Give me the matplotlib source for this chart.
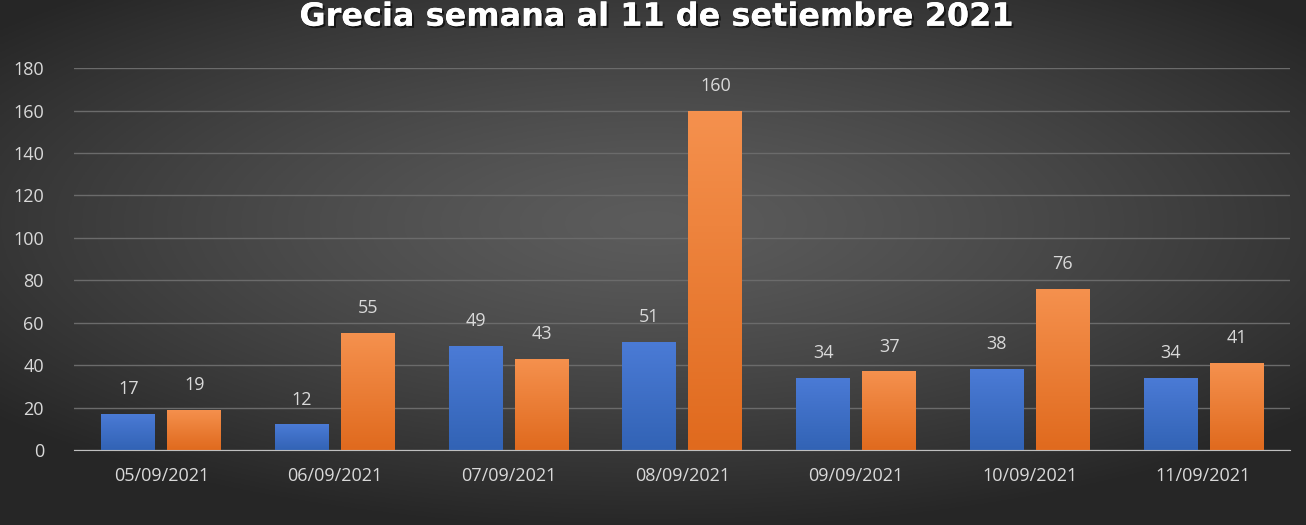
import numpy as np
import matplotlib.pyplot as plt
import matplotlib.patheffects as pe

fechas = ['05/09/2021', '06/09/2021', '07/09/2021', '08/09/2021',
          '09/09/2021', '10/09/2021', '11/09/2021']
serie_azul = [17, 12, 49, 51, 34, 38, 34]
serie_naranja = [19, 55, 43, 160, 37, 76, 41]

plt.rcParams['font.family'] = ['Open Sans', 'DejaVu Sans']

fig = plt.figure(figsize=(13.06, 5.25), dpi=100)

# fondo con degradado radial
bg = fig.add_axes([0, 0, 1, 1])
yy, xx = np.mgrid[-1:1:300j, -1:1:600j]
r = np.sqrt((xx * 0.9) ** 2 + ((yy + 0.15) * 1.0) ** 2)
g = np.clip(0.36 - 0.17 * r ** 1.3, 0.15, 0.4)
bg.imshow(np.dstack([g, g, g]), aspect='auto', extent=[0, 1, 0, 1])
bg.axis('off')

ax = fig.add_axes([0.057, 0.143, 0.931, 0.727])
ax.patch.set_alpha(0)

x = np.arange(len(fechas))
w = 0.31
gap = 0.07
b1 = ax.bar(x - (w + gap) / 2, serie_azul, w, color='#4472C4', zorder=3)
b2 = ax.bar(x + (w + gap) / 2, serie_naranja, w, color='#ED7D31', zorder=3)

# degradado vertical en las barras
def gradient(bars, top, bottom):
    grad = np.linspace(0, 1, 100).reshape(-1, 1)
    top = np.array(plt.matplotlib.colors.to_rgb(top))
    bottom = np.array(plt.matplotlib.colors.to_rgb(bottom))
    img = top * (1 - grad[..., None]) + bottom * grad[..., None]
    img = img.reshape(100, 1, 3)
    for bar in bars:
        bx, by = bar.get_x(), bar.get_y()
        bw, bh = bar.get_width(), bar.get_height()
        im = ax.imshow(img, extent=[bx, bx + bw, by, by + bh], aspect='auto',
                       zorder=4)
        im.set_clip_path(bar)

gradient(b1, '#4B7BD6', '#3263B5')
gradient(b2, '#F5914E', '#E06A1E')

for bars, vals in ((b1, serie_azul), (b2, serie_naranja)):
    for bar, v in zip(bars, vals):
        ax.text(bar.get_x() + bar.get_width() / 2, v + 7.5, str(v),
                ha='center', va='bottom', color='#d9d9d9', fontsize=13,
                zorder=5)

ax.set_xlim(-0.5, len(fechas) - 0.5)
ax.set_ylim(0, 180)
ax.set_yticks(range(0, 181, 20))
ax.set_xticks(x)
ax.set_xticklabels(fechas)
ax.grid(axis='y', color='#6b6b6b', linewidth=1, zorder=0)
ax.tick_params(colors='#d9d9d9', labelsize=13, length=0)
ax.tick_params(axis='y', pad=22)
ax.tick_params(axis='x', pad=12)
for s in ['top', 'right', 'left']:
    ax.spines[s].set_visible(False)
ax.spines['bottom'].set_color('#bfbfbf')
ax.spines['bottom'].set_zorder(6)

fig.text(0.503, 0.951, 'Grecia semana al 11 de setiembre 2021', ha='center',
         va='baseline', color='white', fontsize=23, fontweight='bold',
         family=['DejaVu Sans'],
         path_effects=[pe.withSimplePatchShadow(offset=(1.5, -1.5),
                                                 shadow_rgbFace='black',
                                                 alpha=0.6), pe.Normal()])

fig.savefig('out.png', dpi=100)
